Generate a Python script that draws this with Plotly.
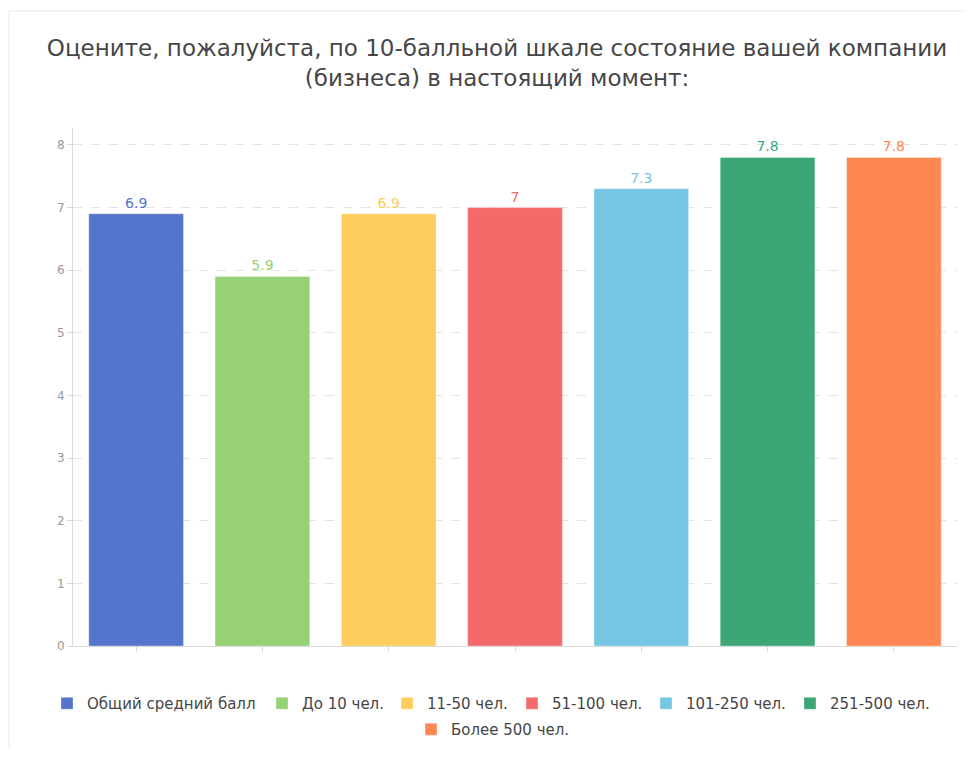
import plotly.graph_objects as go

categories = ["Общий средний балл", "До 10 чел.", "11-50 чел.", "51-100 чел.",
              "101-250 чел.", "251-500 чел.", "Более 500 чел."]
values = [6.9, 5.9, 6.9, 7, 7.3, 7.8, 7.8]
colors = ["#5574cc", "#96d175", "#ffcd5c", "#f46a6a", "#76c6e3", "#3da676", "#ff8752"]
y_ticks = [0, 1, 2, 3, 4, 5, 6, 7, 8]
title_text = "Оцените, пожалуйста, по 10-балльной шкале состояние вашей компании<br>(бизнеса) в настоящий момент:"

FONT = "DejaVu Sans"
W, H = 966, 742  # page has an 8px body margin

# legend entry layout (pixel positions in figure coords): one legend per entry
legend_pos = [(39, 679), (254, 679), (379, 679), (504, 679),
              (638, 679), (782, 679), (403, 705)]

fig = go.Figure()
for i, (cat, val, col) in enumerate(zip(categories, values, colors)):
    fig.add_trace(go.Bar(
        x=[cat], y=[val], name=cat,
        marker=dict(color=col, line=dict(color="rgba(255,255,255,0.35)", width=1)),
        width=0.75,
        text=[val], texttemplate="%{y}", textposition="outside",
        textfont=dict(color=col, size=14, family=FONT),
        cliponaxis=False,
        legend="legend" if i == 0 else f"legend{i+1}",
        hoverinfo="x+y",
    ))

legends = {}
for i, (lx, ly) in enumerate(legend_pos):
    key = "legend" if i == 0 else f"legend{i+1}"
    legends[key] = dict(orientation="h", xref="container", x=lx / W, xanchor="left",
                        yref="container", y=1 - ly / H, yanchor="top",
                        font=dict(size=15, color="#464646", family=FONT),
                        itemwidth=30, bgcolor="rgba(0,0,0,0)")

fig.update_layout(
    width=W, height=H,
    paper_bgcolor="white", plot_bgcolor="white",
    margin=dict(l=65, r=17, t=120, b=104),
    barmode="overlay",
    font=dict(family=FONT, color="#464646"),
    title=dict(text=title_text, x=489/W, xanchor="center",
               yref="container", y=1 - 48/H, yanchor="top",
               font=dict(size=23, color="#464646", family=FONT)),
    showlegend=True,
    **legends,
    xaxis=dict(type="category", categoryorder="array", categoryarray=categories,
               showticklabels=False, ticks="outside", ticklen=5, tickcolor="#d9d9d9",
               showline=True, linecolor="#d9d9d9", linewidth=1, showgrid=False,
               range=[-0.5, 6.5], fixedrange=True),
    yaxis=dict(range=[0, 8.27], tickvals=y_ticks, ticks="outside", ticklen=5,
               tickcolor="#d9d9d9", showline=True, linecolor="#d9d9d9", linewidth=1,
               showgrid=True, gridcolor="#e3e3e3", griddash="dash", gridwidth=1,
               zeroline=False, tickfont=dict(size=12, color="#999999", family=FONT)),
    shapes=[dict(type="rect", xref="paper", yref="paper",
                 x0=(1 - 65) / 884, x1=2, y0=-1, y1=(638 - 3) / 518,
                 line=dict(color="#e8e8e8", width=1), fillcolor="rgba(0,0,0,0)",
                 layer="below")],
)

fig.write_html("out.html")
